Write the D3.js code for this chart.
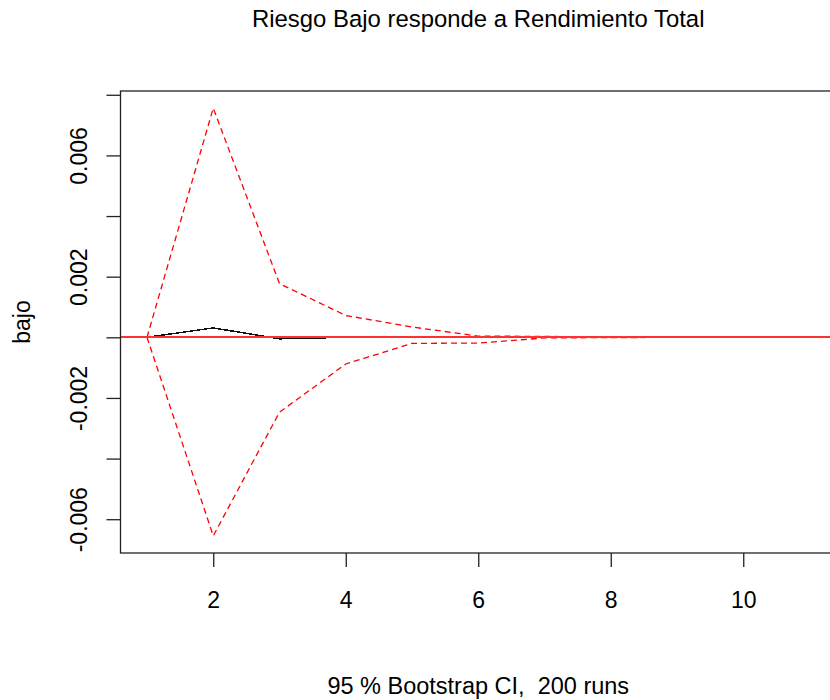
<!DOCTYPE html>
<html>
<head>
<meta charset="utf-8">
<script src="https://cdn.jsdelivr.net/npm/d3@7"></script>
<style>
  html, body { margin: 0; padding: 0; background: #ffffff; }
  svg { display: block; }
  text { font-family: "Liberation Sans", Arial, sans-serif; fill: #000; }
</style>
</head>
<body>
<svg id="chart" width="830" height="700"></svg>
<script>
// ---- data ----
const titleText = "Riesgo Bajo responde a Rendimiento Total";
const xLabelText = "95 % Bootstrap CI,  200 runs";
const yLabelText = "bajo";
const steps = [1, 2, 3, 4, 5, 6, 7, 8, 9, 10, 11];
const irf   = [0, 0.00031, -0.00005, 0, 0, 0, 0, 0, 0, 0, 0];
const upper = [0, 0.00756, 0.00177, 0.00072, 0.00034, 0.00004, 0.00003, 0.00001, 0, 0, 0];
const lower = [0, -0.00655, -0.00247, -0.00088, -0.0002, -0.00019, -0.00002, -0.00001, 0, 0, 0];
const xTicks = [2, 4, 6, 8, 10];
const yTicks = [-0.006, -0.004, -0.002, 0, 0.002, 0.004, 0.006, 0.008];
const yTickLabels = ["-0.006", "", "-0.002", "", "0.002", "", "0.006", ""];

// ---- layout ----
const svg = d3.select("#chart");
const box = { left: 120.5, right: 836, top: 91, bottom: 553 };

// R-style 4% axis extension
const xExt = d3.extent(steps);
const xPad = (xExt[1] - xExt[0]) * 0.04;
const yExt = [d3.min(lower.concat(irf)), d3.max(upper.concat(irf))];
const yPad = (yExt[1] - yExt[0]) * 0.04;

const x = d3.scaleLinear().domain([xExt[0] - xPad, xExt[1] + xPad]).range([box.left, box.right]);
const y = d3.scaleLinear().domain([yExt[0] - yPad, yExt[1] + yPad]).range([box.bottom, box.top]);

// ---- series ----
const line = d3.line().x((d, i) => x(steps[i])).y(d => y(d));

svg.append("path").datum(irf)
  .attr("d", line).attr("fill", "none")
  .attr("stroke", "#111").attr("stroke-width", 1.5)
  .attr("shape-rendering", "crispEdges");

[upper, lower].forEach(s => {
  svg.append("path").datum(s)
    .attr("d", line).attr("fill", "none")
    .attr("stroke", "#ff0000").attr("stroke-width", 1.3)
    .attr("stroke-dasharray", "6,4");
});

// zero line
svg.append("line")
  .attr("x1", box.left).attr("x2", box.right)
  .attr("y1", y(0)).attr("y2", y(0))
  .attr("stroke", "#ff3030").attr("stroke-width", 2)
  .attr("shape-rendering", "crispEdges");

// ---- box ----
svg.append("rect")
  .attr("x", box.left).attr("y", box.top)
  .attr("width", box.right - box.left).attr("height", box.bottom - box.top)
  .attr("fill", "none").attr("stroke", "#222").attr("stroke-width", 1.3);

// ---- axes ----
const xAxis = d3.axisBottom(x).tickValues(xTicks).tickSize(14).tickPadding(0)
  .tickFormat(d3.format("d"));
const gx = svg.append("g").attr("transform", `translate(0,${box.bottom})`).call(xAxis);
gx.select(".domain").remove();
gx.selectAll(".tick line").attr("stroke", "#222").attr("stroke-width", 1.3);
gx.selectAll(".tick text")
  .attr("y", 55).attr("dy", null)
  .style("font-size", "23px").style("font-family", "Liberation Sans, Arial, sans-serif")
  .attr("fill", "#000");

const yAxis = d3.axisLeft(y).tickValues(yTicks).tickSize(14)
  .tickFormat((d, i) => yTickLabels[i]);
const gy = svg.append("g").attr("transform", `translate(${box.left},0)`).call(yAxis);
gy.select(".domain").remove();
gy.selectAll(".tick")
  .filter(d => y(d) < box.top - 0.5 || y(d) > box.bottom + 0.5).remove();
gy.selectAll(".tick line").attr("stroke", "#222").attr("stroke-width", 1.3);
gy.selectAll(".tick text")
  .attr("x", null).attr("dy", null)
  .attr("transform", "translate(-34,0) rotate(-90)")
  .attr("text-anchor", "middle")
  .style("font-size", "23px").style("font-family", "Liberation Sans, Arial, sans-serif")
  .attr("fill", "#000");

// ---- titles ----
const cx = (box.left + box.right) / 2;
svg.append("text").attr("x", cx).attr("y", 27)
  .attr("text-anchor", "middle").style("font-size", "23.9px").text(titleText);

svg.append("text").attr("x", cx).attr("y", 694)
  .attr("text-anchor", "middle").style("font-size", "23.5px")
  .style("white-space", "pre").attr("xml:space", "preserve").text(xLabelText);

svg.append("text")
  .attr("transform", `translate(30,${(box.top + box.bottom) / 2}) rotate(-90)`)
  .attr("text-anchor", "middle").style("font-size", "23px").text(yLabelText);
</script>
</body>
</html>
